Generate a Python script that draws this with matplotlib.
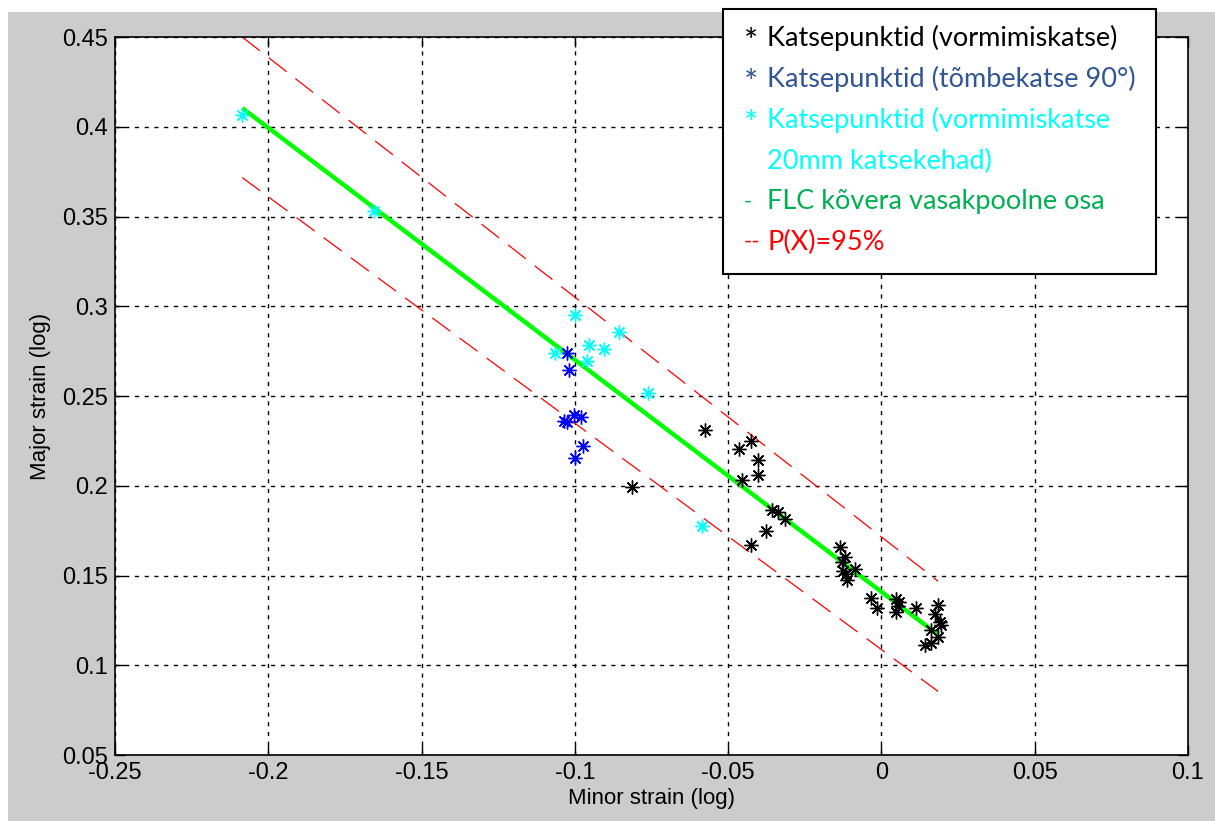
import matplotlib
matplotlib.use('Agg')
import matplotlib.pyplot as plt
from matplotlib.patches import Rectangle

# Katsepunktid (vormimiskatse)
x_black = [-0.0814, -0.0576, -0.0427, -0.0465, -0.0404, -0.0404, -0.0456, -0.0356,
           -0.0339, -0.0313, -0.0375, -0.0427, -0.0136, -0.0119, -0.0130, -0.0087,
           -0.0125, -0.0114, -0.0111, -0.0035, -0.0016, 0.0046, 0.0056, 0.0054,
           0.0046, 0.0114, 0.0185, 0.0176, 0.0190, 0.0195, 0.0161, 0.0185, 0.0163, 0.0141]
y_black = [0.1994, 0.2311, 0.2252, 0.2202, 0.2141, 0.2061, 0.2033, 0.1867,
           0.1854, 0.1817, 0.1746, 0.1672, 0.1659, 0.1604, 0.1576, 0.1535,
           0.1524, 0.1511, 0.1474, 0.1376, 0.1317, 0.1368, 0.1350, 0.1332,
           0.1298, 0.1320, 0.1335, 0.1283, 0.1239, 0.1224, 0.1197, 0.1159, 0.1122, 0.1113]

# Katsepunktid (tõmbekatse 90°)
x_blue = [-0.1026, -0.1019, -0.1037, -0.1026, -0.1004, -0.0979, -0.0975, -0.1001]
y_blue = [0.2739, 0.2644, 0.2363, 0.2357, 0.2394, 0.2382, 0.2224, 0.2154]

# Katsepunktid (vormimiskatse 20mm katsekehad)
x_cyan = [-0.2085, -0.1655, -0.1000, -0.0856, -0.0955, -0.0906, -0.1066, -0.0961, -0.0760, -0.0586]
y_cyan = [0.4067, 0.3528, 0.2950, 0.2857, 0.2785, 0.2761, 0.2739, 0.2696, 0.2517, 0.1778]

# FLC kõvera vasakpoolne osa ja P(X)=95%
x_flc = [-0.2085, 0.0185]
y_flc = [0.4104, 0.1170]
y_upper = [0.4500, 0.1468]
y_lower = [0.3717, 0.0854]

xticks = [-0.25, -0.2, -0.15, -0.1, -0.05, 0, 0.05, 0.1]
xticklabels = ['-0.25', '-0.2', '-0.15', '-0.1', '-0.05', '0', '0.05', '0.1']
yticks = [0.05, 0.1, 0.15, 0.2, 0.25, 0.3, 0.35, 0.4, 0.45]
yticklabels = ['0.05', '0.1', '0.15', '0.2', '0.25', '0.3', '0.35', '0.4', '0.45']

legend_lines = [('*', 'Katsepunktid (vormimiskatse)', 'black'),
                ('*', 'Katsepunktid (tõmbekatse 90°)', '#2f5597'),
                ('*', 'Katsepunktid (vormimiskatse', '#00ffff'),
                ('', '20mm katsekehad)', '#00ffff'),
                ('-', 'FLC kõvera vasakpoolne osa', '#00b050'),
                ('--', 'P(X)=95%', '#ff0000')]

plt.rcParams['font.family'] = ['Liberation Sans', 'DejaVu Sans']

W, H = 1215, 821
fig = plt.figure(figsize=(W / 100, H / 100), dpi=100)
fig.patch.set_facecolor('white')
fig.patches.append(Rectangle((8 / W, 0), 1, 1 - 12 / H, transform=fig.transFigure,
                             facecolor='#cccccc', edgecolor='none', zorder=-10))

ax = fig.add_axes([115 / W, 1 - 755 / H, (1188 - 115) / W, (755 - 37) / H])
ax.set_facecolor('white')

ax.plot(x_flc, y_upper, color='red', lw=0.9, dashes=(18, 9))
ax.plot(x_flc, y_lower, color='red', lw=0.9, dashes=(18, 9))
ax.plot(x_flc, y_flc, color=(0, 1, 0), lw=3.2, solid_capstyle='butt')

mk = dict(marker=(8, 2, 0), linestyle='none', markersize=10, markeredgewidth=1.0)
ax.plot(x_black, y_black, color='black', **mk)
ax.plot(x_blue, y_blue, color='blue', **mk)
ax.plot(x_cyan, y_cyan, color='cyan', **mk)

ax.set_xlim(-0.25, 0.1)
ax.set_ylim(0.05, 0.45)
ax.set_xticks(xticks)
ax.set_xticklabels(xticklabels)
ax.set_yticks(yticks)
ax.set_yticklabels(yticklabels)
ax.tick_params(direction='in', length=7, width=1, labelsize=17, top=True, right=True,
               colors='black', pad=5)
ax.grid(True, color='black', linestyle=(0, (3, 4)), linewidth=1)
for s in ax.spines.values():
    s.set_linewidth(1.2)

ax.set_xlabel('Minor strain (log)', fontsize=16, labelpad=3)
ax.set_ylabel('Major strain (log)', fontsize=16, labelpad=8)

# legend box drawn separately (like pasted on top)
lx0, lx1, ly0, ly1 = 723, 1156, 9, 274
fig.patches.append(Rectangle((lx0 / W, 1 - ly1 / H), (lx1 - lx0) / W, (ly1 - ly0) / H,
                             transform=fig.transFigure, facecolor='white',
                             edgecolor='black', linewidth=1.5, zorder=10))
ycent = [38, 79, 120, 161, 202, 242]
for (sym, txt, col), yc in zip(legend_lines, ycent):
    if sym == '*':
        fig.text(744 / W, 1 - (yc + 5) / H, sym, color=col, fontsize=24, family='Lato',
                 va='center', ha='left', zorder=11)
    elif sym:
        fig.text(744 / W, 1 - yc / H, sym, color=col, fontsize=16, family='Lato',
                 va='center', ha='left', zorder=11)
    fig.text(767 / W, 1 - yc / H, txt, color=col, fontsize=19.5, family='Lato',
             va='center', ha='left', zorder=11)

fig.savefig('out.png', dpi=100, facecolor=fig.get_facecolor())
